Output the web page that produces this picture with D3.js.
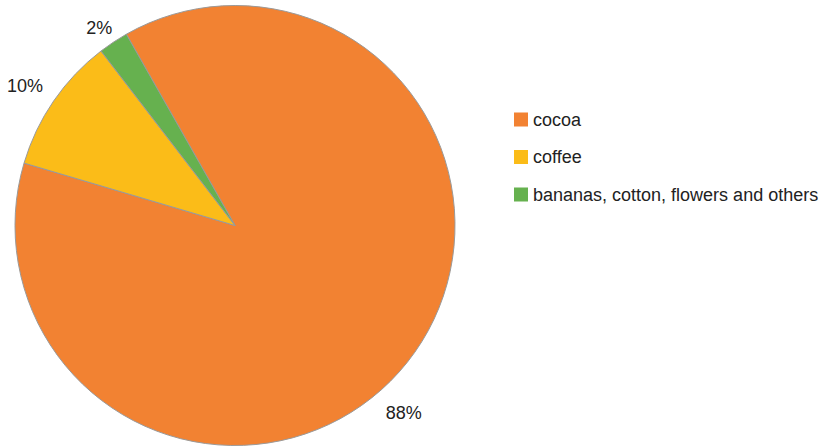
<!DOCTYPE html>
<html>
<head>
<meta charset="utf-8">
<script src="https://cdn.jsdelivr.net/npm/d3@7"></script>
<style>
  html, body { margin: 0; padding: 0; background: #fff; }
  text { font-family: "Liberation Sans", Arial, sans-serif; fill: #222; }
</style>
</head>
<body>
<svg id="chart" width="824" height="446"></svg>
<script>
const categories = ["cocoa", "coffee", "bananas, cotton, flowers and others"];
const values = [87.8, 10.0, 2.2];
const colors = ["#f28232", "#fbbc18", "#66b14f"];
const labelAngleNudge = [9.5, -0.9, -0.9]; // degrees
const labelRadius = [252, 252, 240];

const W = 824, H = 446;
const cx = 235, cy = 225.5, r = 220;
const svg = d3.select("#chart");
const deg = Math.PI / 180;

const pie = d3.pie().sort(null).value(d => d.v).startAngle(-29.6 * deg).endAngle(330.4 * deg);
const data = categories.map((c, i) => ({ c, v: values[i], color: colors[i], i }));
const arcs = pie(data);
const arc = d3.arc().innerRadius(0).outerRadius(r);

const g = svg.append("g").attr("transform", `translate(${cx},${cy})`);
g.selectAll("path").data(arcs).enter().append("path")
  .attr("d", arc)
  .attr("fill", d => d.data.color)
  .attr("stroke", "#9a9a9a")
  .attr("stroke-width", 1);

const total = d3.sum(values);
const la = d => (d.startAngle + d.endAngle) / 2 + labelAngleNudge[d.data.i] * deg;
g.selectAll("text.lbl").data(arcs).enter().append("text")
  .attr("class", "lbl")
  .attr("x", d => labelRadius[d.data.i] * Math.sin(la(d)))
  .attr("y", d => -labelRadius[d.data.i] * Math.cos(la(d)))
  .attr("dy", "0.35em")
  .attr("text-anchor", "middle")
  .attr("font-size", 18)
  .text(d => Math.round(d.data.v / total * 100) + "%");

const legend = svg.append("g").attr("transform", "translate(514,112.5)");
const rows = legend.selectAll("g").data(data).enter().append("g")
  .attr("transform", (d, i) => `translate(0,${i * 37.5})`);
rows.append("rect").attr("width", 14).attr("height", 14).attr("fill", d => d.color);
rows.append("text").attr("x", 19).attr("y", 7).attr("dy", "0.35em")
  .attr("font-size", 18).text(d => d.c);
</script>
</body>
</html>
